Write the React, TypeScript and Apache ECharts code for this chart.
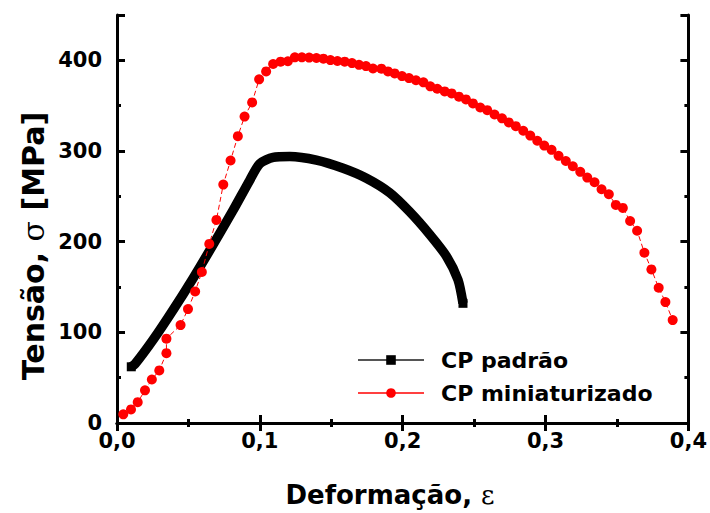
import React, { useEffect, useRef } from "react";
import * as echarts from "echarts";

const strainStd = [0.0100, 0.0126, 0.0254, 0.0394, 0.0534, 0.0674, 0.0814, 0.0930, 0.1000, 0.1093, 0.1210, 0.1396, 0.1583, 0.1746, 0.1909, 0.2049, 0.2189, 0.2306, 0.2387, 0.2422];
const stressStd = [62, 65, 92, 125, 160, 197, 235, 268, 286, 293, 294, 290, 281, 270, 254, 233, 208, 184, 158, 132];

const strainMini = [
  0.0044, 0.0098, 0.0145, 0.0196, 0.0244, 0.0296, 0.0346, 0.0346, 0.0445, 0.0497,
  0.0547, 0.0594, 0.0646, 0.0696, 0.0744, 0.0795, 0.0846, 0.0893, 0.0946, 0.0995,
  0.1044, 0.1093, 0.1145, 0.1196, 0.1245, 0.1294, 0.1345, 0.1396, 0.1445, 0.1494,
  0.1543, 0.1594, 0.1645, 0.1694, 0.1743, 0.1792, 0.1851, 0.1897, 0.1944, 0.1995,
  0.2044, 0.2093, 0.2145, 0.2193, 0.2242, 0.2294, 0.2343, 0.2394, 0.2443, 0.2492,
  0.2543, 0.2592, 0.2643, 0.2695, 0.2743, 0.2792, 0.2844, 0.2893, 0.2942, 0.2991,
  0.3042, 0.3091, 0.3142, 0.3191, 0.3243, 0.3292, 0.3343, 0.3392, 0.3443, 0.3492,
  0.3541, 0.3592, 0.3641, 0.3692, 0.3741, 0.3792, 0.3839, 0.3890,
];
const stressMini = [
  9.6, 15, 23, 36, 48, 58, 77, 93, 108, 125.6,
  145, 166.5, 197.5, 224, 263, 289.5, 316.4, 338, 353.6, 379,
  387.8, 396, 398.5, 399, 403.3, 403.3, 403, 402.6, 401.8, 400.3,
  399.3, 398.5, 397, 395, 393.7, 391, 390.8, 387.8, 385.6, 382.6,
  380.4, 378, 375.7, 371.3, 368.7, 365.7, 363.5, 359.9, 356.9, 352.5,
  348, 345, 340.3, 336, 331.5, 327.4, 322.3, 317, 311.3, 306,
  301.3, 294.7, 289, 283.2, 277, 270.7, 265.5, 257.8, 252.3, 240.5,
  237.2, 222.8, 212, 187.8, 169.4, 149.2, 133.4, 113.5,
];

const seriesNames = ["CP padrão", "CP miniaturizado"];
const xTicks = [0, 0.1, 0.2, 0.3, 0.4];
const yTicks = [0, 100, 200, 300, 400];
const xTitle = "Deformação, ";
const xSymbol = "ε";
const yTitle = "Tensão, ";
const ySymbol = "σ";
const yUnit = " [MPa]";

const FONT = "DejaVu Sans";

export default function App() {
  const ref = useRef<HTMLDivElement>(null);
  useEffect(() => {
    if (!ref.current) return;
    const chart = echarts.init(ref.current, null, { renderer: "svg" });
    const axisLineStyle = { color: "#000", width: 3 };
    const labelStyle = { fontFamily: FONT, fontWeight: "bold" as const, fontSize: 21, color: "#000" };
    const xBase = (pos: string, labels: boolean) => ({
      type: "value",
      position: pos,
      min: xTicks[0],
      max: xTicks[xTicks.length - 1],
      interval: 0.1,
      axisLine: { show: true, lineStyle: axisLineStyle },
      axisTick: { show: true, inside: true, length: 8, lineStyle: { color: "#000", width: 3 } },
      minorTick: { show: true, splitNumber: 2, length: 4, lineStyle: { color: "#000", width: 3 } },
      splitLine: { show: false },
      axisLabel: labels
        ? { ...labelStyle, margin: 7, formatter: (v: number) => v.toFixed(1).replace(".", ",") }
        : { show: false },
    });
    const yBase = (pos: string, interval: number, len: number, labels: boolean, line: boolean) => ({
      type: "value",
      position: pos,
      min: 0,
      max: 450,
      interval,
      axisLine: { show: line, lineStyle: axisLineStyle },
      axisTick: { show: true, inside: true, length: len, lineStyle: { color: "#000", width: 3 } },
      splitLine: { show: false },
      axisLabel: labels
        ? { ...labelStyle, margin: 15, formatter: (v: number) => (yTicks.includes(v) ? String(v) : "") }
        : { show: false },
    });
    const lastStd = strainStd.length - 1;
    chart.setOption({
      animation: false,
      backgroundColor: "#fff",
      grid: { left: 117, right: 21, top: 15, bottom: 90 },
      xAxis: [xBase("bottom", true), xBase("top", false)],
      yAxis: [
        yBase("left", 100, 8, true, true),
        yBase("left", 50, 4, false, false),
        yBase("right", 100, 8, false, true),
        yBase("right", 50, 4, false, false),
      ],
      legend: {
        orient: "vertical",
        left: 352,
        top: 344,
        itemWidth: 66,
        itemHeight: 12,
        itemGap: 11,
        textStyle: { fontFamily: FONT, fontWeight: "bold", fontSize: 22, color: "#000", padding: [0, 0, 0, 12] },
        data: [
          { name: seriesNames[0], lineStyle: { width: 2, color: "#555", type: "solid" }, itemStyle: { color: "#000", borderWidth: 0 } },
          { name: seriesNames[1], lineStyle: { width: 1.5, color: "#ff0000", type: "solid" }, itemStyle: { color: "#ff0000", borderWidth: 0 } },
        ],
      },
      series: [
        {
          name: seriesNames[0],
          type: "line",
          xAxisIndex: 0,
          yAxisIndex: 0,
          data: strainStd.map((x, i) => ({
            value: [x, stressStd[i]],
            symbol: i === 0 || i === lastStd ? "rect" : "none",
          })),
          symbol: "rect",
          symbolSize: 9,
          showSymbol: true,
          smooth: 0.25,
          lineStyle: { color: "#000", width: 9.5, join: "round" },
          itemStyle: { color: "#000", borderWidth: 0 },
        },
        {
          name: seriesNames[1],
          type: "line",
          xAxisIndex: 0,
          yAxisIndex: 0,
          data: strainMini.map((x, i) => [x, stressMini[i]]),
          symbol: "circle",
          symbolSize: 10,
          showSymbol: true,
          lineStyle: { color: "#ff0000", width: 1, type: [5, 3] },
          itemStyle: { color: "#ff0000", borderWidth: 0 },
        },
      ],
      graphic: [
        {
          type: "text",
          x: 390,
          y: 495,
          style: {
            text: `${xTitle}{g|${xSymbol}}`,
            fontFamily: FONT,
            fontWeight: "bold",
            fontSize: 26,
            fill: "#000",
            align: "center",
            verticalAlign: "middle",
            rich: { g: { fontFamily: "DejaVu Serif", fontWeight: "normal", fontSize: 26, fill: "#000" } },
          },
        },
        {
          type: "text",
          x: 33,
          y: 246,
          rotation: Math.PI / 2,
          style: {
            text: `${yTitle}{g|${ySymbol}}${yUnit}`,
            fontFamily: FONT,
            fontWeight: "bold",
            fontSize: 30,
            fill: "#000",
            align: "center",
            verticalAlign: "middle",
            rich: { g: { fontFamily: "DejaVu Serif", fontWeight: "normal", fontSize: 30, fill: "#000" } },
          },
        },
      ],
    });
    return () => chart.dispose();
  }, []);
  return (
    <div
      ref={ref}
      style={{ position: "fixed", left: 0, top: 0, width: 710, height: 513, background: "#fff" }}
    />
  );
}
